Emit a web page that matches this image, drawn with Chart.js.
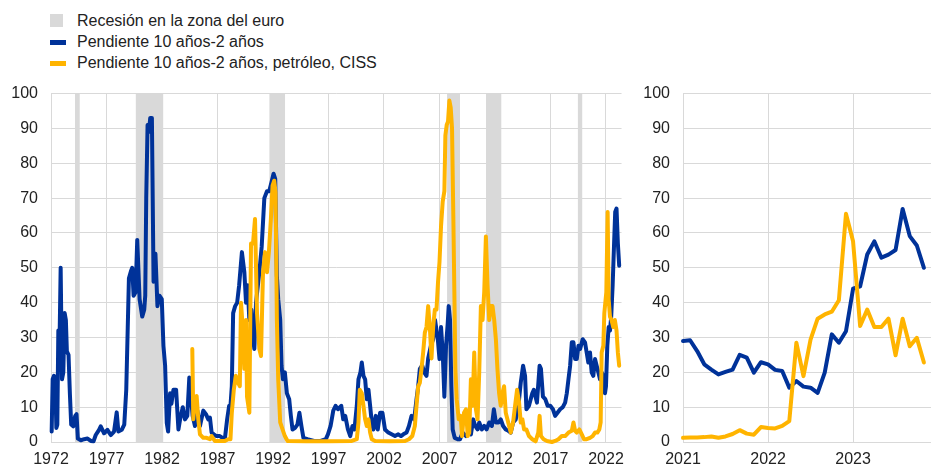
<!DOCTYPE html>
<html><head><meta charset="utf-8">
<script src="https://cdn.jsdelivr.net/npm/chart.js@4.4.0/dist/chart.umd.min.js"></script>
<style>
html,body{margin:0;padding:0;background:#fff;}
body{width:933px;height:468px;position:relative;overflow:hidden;font-family:"Liberation Sans",Arial,sans-serif;}
.item{position:absolute;left:77px;font-size:16px;line-height:18px;color:#222;white-space:nowrap;}
.sw{position:absolute;left:50px;}
#c1{position:absolute;left:0;top:80px;width:632px;height:388px;}
#c2{position:absolute;left:632px;top:80px;width:301px;height:388px;}
</style></head>
<body>
<div id="legend"></div>
<canvas id="c1" width="632" height="388"></canvas>
<canvas id="c2" width="301" height="388"></canvas>
<script>
// ---- labels ----
const seriesNames = ['Recesión en la zona del euro', 'Pendiente 10 años-2 años', 'Pendiente 10 años-2 años, petróleo, CISS'];
const seriesColors = ['#d9d9d9', '#003299', '#FFB400'];
const longTicks = [1972, 1977, 1982, 1987, 1992, 1997, 2002, 2007, 2012, 2017, 2022];
const recentTicks = [2021, 2022, 2023];

// ---- euro area recessions (start / end, decimal years) ----
const recessionStart = [1974.15, 1979.62, 1991.66, 2007.68, 2011.18, 2019.45];
const recessionEnd   = [1974.60, 1982.13, 1993.10, 2008.85, 2012.59, 2019.88];

// ---- long panel: 10y-2y slope model ----
const slopeYears = [1972.06,1972.15,1972.27,1972.39,1972.48,1972.57,1972.66,1972.78,1972.87,1972.99,1973.11,1973.23,1973.34,1973.43,1973.58,1973.70,1973.82,1974.00,1974.18,1974.30,1974.42,1974.69,1974.99,1975.29,1975.59,1975.83,1976.03,1976.33,1976.48,1976.78,1977.08,1977.38,1977.68,1977.92,1978.07,1978.37,1978.60,1978.78,1979.02,1979.20,1979.32,1979.44,1979.62,1979.77,1979.98,1980.22,1980.40,1980.49,1980.58,1980.70,1980.82,1980.94,1981.09,1981.24,1981.41,1981.59,1981.77,1981.98,1982.13,1982.28,1982.43,1982.55,1982.73,1982.85,1983.03,1983.27,1983.48,1983.63,1983.87,1984.07,1984.28,1984.46,1984.58,1984.76,1984.97,1985.18,1985.42,1985.72,1985.96,1986.17,1986.32,1986.47,1986.67,1986.91,1987.21,1987.45,1987.66,1987.87,1988.05,1988.17,1988.29,1988.41,1988.59,1988.77,1988.95,1989.20,1989.42,1989.57,1989.72,1989.87,1990.05,1990.20,1990.32,1990.47,1990.77,1990.98,1991.22,1991.46,1991.66,1991.87,1992.05,1992.20,1992.35,1992.47,1992.65,1992.77,1992.89,1993.07,1993.25,1993.46,1993.61,1993.76,1993.97,1994.20,1994.38,1994.56,1994.74,1995.10,1995.70,1996.30,1996.75,1996.95,1997.19,1997.43,1997.64,1997.85,1998.15,1998.33,1998.51,1998.75,1998.96,1999.16,1999.34,1999.55,1999.70,1999.88,2000.00,2000.15,2000.30,2000.45,2000.60,2000.75,2000.90,2001.05,2001.26,2001.44,2001.65,2001.86,2002.09,2002.39,2002.69,2002.99,2003.29,2003.53,2003.74,2004.03,2004.25,2004.48,2004.72,2004.93,2005.08,2005.23,2005.44,2005.62,2005.83,2005.98,2006.22,2006.43,2006.60,2006.85,2007.00,2007.14,2007.29,2007.44,2007.59,2007.74,2007.83,2007.95,2008.07,2008.19,2008.37,2008.64,2008.85,2009.09,2009.39,2009.62,2009.83,2010.04,2010.22,2010.43,2010.58,2010.82,2011.03,2011.24,2011.48,2011.72,2011.90,2012.08,2012.31,2012.52,2012.73,2012.97,2013.21,2013.42,2013.63,2013.87,2014.11,2014.32,2014.53,2014.71,2014.83,2015.06,2015.36,2015.50,2015.78,2016.02,2016.14,2016.32,2016.53,2016.74,2016.98,2017.22,2017.42,2017.63,2017.87,2018.11,2018.32,2018.47,2018.62,2018.77,2018.92,2019.07,2019.22,2019.37,2019.52,2019.67,2019.90,2020.11,2020.26,2020.41,2020.56,2020.71,2020.86,2021.01,2021.16,2021.31,2021.46,2021.61,2021.76,2021.91,2022.00,2022.12,2022.24,2022.36,2022.47,2022.60,2022.72,2022.83,2022.95,2023.07,2023.19];
const slopeValues = [3,18,19,17,4,5,32,31,50,18,20,37,35,26,25,14,5,4.5,7.5,8,1,0.5,0.8,1,0.3,0.2,2,3.5,4.5,2.5,3.5,2,3,8.5,3,3.5,5,15,47,49,50,42,43,58,41,36,38,42,70,91,89,93,93,46,54,39,42,41,27.6,22,5.5,3,14,11,15,15,3.6,6.5,10,6.5,7.5,18.5,14,7.5,4.6,9,4.6,9,8,6.5,7,2.7,2.2,1.7,1.7,1.2,0.8,6.5,10.4,10.4,16,37,39,40,45,54.5,48.7,40,45,35,38,30,26.7,40,48.7,56,70,72,72,74.6,77,75.5,47.7,41,35,21.9,18,20,14,12.3,7.5,3.6,4,5,8.4,4.6,1.2,0.8,0.3,0.3,0.8,2.2,4.6,9,10.4,9.4,10.4,6.5,7.5,3.6,1.7,4.6,3.6,10.4,18,20,22.8,19,18,12.3,15,10.4,5.6,3.6,7.5,3.6,8.4,8.4,3.6,2.7,2.2,1.7,2.2,1.7,2.2,2.7,4.6,7.5,6.5,12.3,16,21,22,20,19,24,27.6,29.5,35,29.5,23.8,33,25.7,13,27.6,34,39,35,16,3.6,1.2,0.8,0.8,2.7,1.7,2.7,2.2,6.5,4.6,3.6,5.6,3.6,4.6,3.6,5.6,4.6,9.4,5.6,5.6,6.5,4.6,3.6,3.2,2.7,5.6,6.5,10.4,17,21.9,19,9.4,10.4,14,15,11.3,21.9,21,13,12.3,10.4,10.4,9.4,7.5,8.4,9.4,10,11.3,14,18,21.9,28.6,28.6,23.8,23.8,27.6,26.7,29.5,28.6,25.7,22.8,25.7,20,19,23.8,21.9,20,18,20,19,14,16,27.6,33,32,36,45,56,66,67,57,50.6];

// ---- long panel: slope + oil + CISS model ----
const cissYears = [1984.73,1984.82,1984.97,1985.12,1985.27,1985.42,1985.72,1986.02,1986.32,1986.47,1986.76,1987.21,1987.66,1987.96,1988.17,1988.29,1988.47,1988.65,1988.86,1989.01,1989.12,1989.20,1989.27,1989.42,1989.57,1989.66,1989.87,1990.02,1990.20,1990.38,1990.56,1990.77,1990.92,1991.10,1991.28,1991.46,1991.63,1991.81,1991.96,1992.11,1992.23,1992.35,1992.47,1992.65,1992.86,1993.07,1993.31,1995.00,1997.00,1999.10,1999.55,1999.70,1999.82,2000.00,2000.15,2000.30,2000.45,2000.60,2000.75,2000.90,2001.20,2002.50,2003.90,2004.25,2004.55,2004.78,2004.93,2005.08,2005.23,2005.38,2005.53,2005.68,2005.83,2005.98,2006.13,2006.28,2006.43,2006.58,2006.73,2006.87,2007.00,2007.14,2007.29,2007.44,2007.53,2007.65,2007.77,2007.89,2008.01,2008.13,2008.25,2008.34,2008.43,2008.55,2008.73,2008.91,2009.03,2009.21,2009.39,2009.54,2009.68,2009.83,2009.98,2010.13,2010.28,2010.43,2010.58,2010.73,2010.88,2011.03,2011.18,2011.33,2011.48,2011.63,2011.78,2011.93,2012.08,2012.22,2012.37,2012.52,2012.67,2012.82,2012.97,2013.12,2013.27,2013.42,2013.63,2013.81,2013.99,2014.17,2014.32,2014.47,2014.62,2014.83,2015.06,2015.36,2015.66,2015.90,2016.02,2016.14,2016.38,2016.68,2017.13,2017.42,2017.72,2018.02,2018.32,2018.62,2018.92,2019.07,2019.22,2019.37,2019.60,2019.82,2020.02,2020.26,2020.56,2020.80,2021.01,2021.22,2021.40,2021.52,2021.61,2021.76,2021.85,2021.94,2022.03,2022.15,2022.24,2022.36,2022.50,2022.65,2022.80,2022.95,2023.07,2023.19];
const cissValues = [26.7,6.5,12.3,13.2,6.5,2.2,1.2,1.2,0.8,1.7,0.3,0.3,0.3,0.8,0.8,8.4,15,19,17,16,40,40,33,21,35,13,8.4,57,57,64,37,26.7,24.7,48.7,54.5,48.7,54.5,64,73.6,75,71.7,35,18,5.6,3.6,1.7,0.3,0.2,0.2,0.3,0.8,5.6,15,14,10.4,6.5,4.6,6.5,2.7,0.8,0.3,0.2,0.3,0.8,1.7,4.6,10.4,16,17,21,25.7,31.4,33,39,33,24,33,38,38,46,51.6,62,69,72,88,91,92,98,96,90,64,43,21,12.3,6.5,7.5,1.7,8.4,9.4,1.7,2.7,18,10.4,25.7,9.4,6.5,20,39,35,43,59,45,35,39,39,35,29.5,21,14,10.4,14,16,8.4,6.5,4.6,2.7,5.6,10.4,15,11.3,5.6,6.5,3.6,3.6,1.7,0.8,0.2,2.7,7.5,1.7,0.8,0.3,0,0.3,0.8,1.7,1.7,2.7,3.2,5.6,3.2,2.7,3.6,2.2,0.8,0.8,1.2,1.7,2.7,2.7,3.6,5.6,25.7,27.6,37,40,43,66,41,36,35,33,35,32,25.7,21.9];

// ---- recent panel (monthly) ----
const recentMonths = ['2021-01','2021-02','2021-03','2021-04','2021-05','2021-06','2021-07','2021-08','2021-09','2021-10','2021-11','2021-12','2022-01','2022-02','2022-03','2022-04','2022-05','2022-06','2022-07','2022-08','2022-09','2022-10','2022-11','2022-12','2023-01','2023-02','2023-03','2023-04','2023-05','2023-06','2023-07','2023-08','2023-09','2023-10','2023-11'];
const recentSlope = [29.0,29.2,26.1,22.3,20.8,19.4,20.1,20.8,25.0,24.2,19.9,22.9,22.3,20.7,20.4,15.6,17.5,15.9,15.6,14.1,19.9,30.9,28.5,31.8,44.0,44.7,53.8,57.6,52.9,53.8,55.1,66.9,59.1,56.4,50.0];
const recentCiss  = [1.2,1.3,1.3,1.4,1.6,1.2,1.6,2.3,3.4,2.4,2.1,4.3,4.0,3.9,4.6,6.0,28.5,18.9,29.4,35.4,36.6,37.4,40.7,65.5,57.6,33.3,38.0,33.0,33.0,35.4,24.9,35.4,27.5,29.9,22.8];

// ---- legend (HTML) ----
const legend = document.getElementById('legend');
const swatchStyle = [
  'top:14px;width:13px;height:13px;',
  'top:39.5px;width:16px;height:5px;',
  'top:61px;width:16px;height:5px;'
];
const textTop = [12, 33, 54];
seriesNames.forEach((name, i) => {
  const sw = document.createElement('div');
  sw.className = 'sw';
  sw.style.cssText = swatchStyle[i] + 'background:' + seriesColors[i] + ';';
  legend.appendChild(sw);
  const t = document.createElement('div');
  t.className = 'item';
  t.style.top = textTop[i] + 'px';
  t.textContent = name;
  legend.appendChild(t);
});

// ---- chart helpers ----
const FONT = {family: '"Liberation Sans", Arial, sans-serif', size: 16};
function toXY(xs, ys) { return xs.map((x, i) => ({x: x, y: ys[i]})); }
function recessionData() {
  const d = [];
  recessionStart.forEach((s, i) => {
    d.push({x: s, y: 100}, {x: recessionEnd[i], y: 100}, {x: recessionEnd[i], y: null});
  });
  return d;
}
function lineDs(label, data, color, order) {
  return {label, data, borderColor: color, backgroundColor: color, borderWidth: 4,
    pointRadius: 0, fill: false, tension: 0, order, clip: 8,
    borderJoinStyle: 'round', borderCapStyle: 'round'};
}
function opts(xmin, xmax, ticks, yWidth, padRight) {
  return {
    responsive: false, animation: false, events: [],
    layout: {padding: {left: 0, right: padRight, top: 4, bottom: 0}},
    plugins: {legend: {display: false}, tooltip: {enabled: false}},
    scales: {
      x: {type: 'linear', min: xmin, max: xmax,
        afterBuildTicks: s => { s.ticks = ticks.map(v => ({value: v})); },
        afterFit: s => { s.height = 26; },
        ticks: {callback: v => String(v), font: FONT, color: '#222', padding: 8, maxRotation: 0, autoSkip: false},
        grid: {color: '#d9d9d9', lineWidth: 1, drawTicks: false},
        border: {display: false}},
      y: {min: 0, max: 100,
        afterFit: s => { s.width = yWidth; },
        ticks: {stepSize: 10, font: FONT, color: '#222', padding: 4},
        grid: {color: '#d9d9d9', lineWidth: 1, drawTicks: true, tickLength: 9, tickColor: 'rgba(0,0,0,0)'},
        border: {display: false}}
    }
  };
}

new Chart(document.getElementById('c1'), {
  type: 'line',
  data: {datasets: [
    lineDs(seriesNames[2], toXY(cissYears, cissValues), seriesColors[2], 1),
    lineDs(seriesNames[1], toXY(slopeYears, slopeValues), seriesColors[1], 2),
    {label: seriesNames[0], data: recessionData(), backgroundColor: seriesColors[0], borderColor: seriesColors[0],
     borderWidth: 0, pointRadius: 0, fill: 'origin', spanGaps: false, order: 3}
  ]},
  options: opts(1972, 2023.4, longTicks, 51, 8)
});

const recentX = recentMonths.map(m => { const p = m.split('-'); return +p[0] + (+p[1] - 1) / 12; });
new Chart(document.getElementById('c2'), {
  type: 'line',
  data: {datasets: [
    lineDs(seriesNames[2], toXY(recentX, recentCiss), seriesColors[2], 1),
    lineDs(seriesNames[1], toXY(recentX, recentSlope), seriesColors[1], 2)
  ]},
  options: opts(2021, 2021 + 35 / 12, recentTicks, 51, 2)
});
</script>
</body></html>
